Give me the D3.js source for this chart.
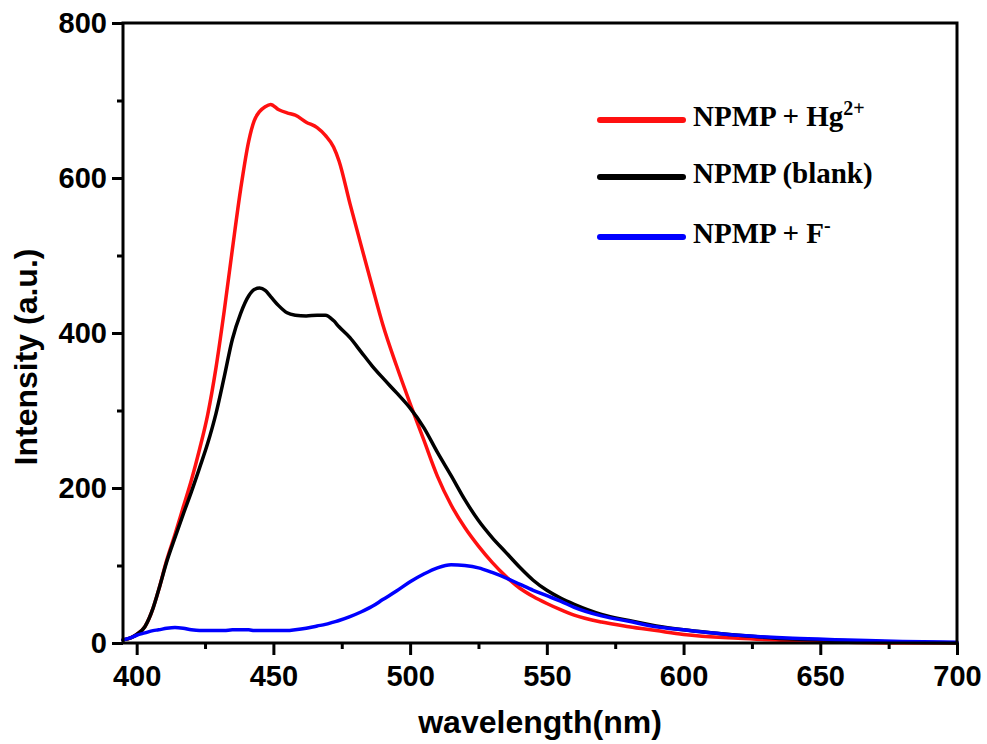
<!DOCTYPE html>
<html>
<head>
<meta charset="utf-8">
<script src="https://cdn.jsdelivr.net/npm/d3@7"></script>
<style>
  html, body { margin: 0; padding: 0; background: #fff; }
  svg { display: block; }
</style>
</head>
<body>
<svg id="chart" width="987" height="744"></svg>
<script>
// ---- data ----
const wavelength = [395,398,400,403,406,408,411,414,417,420,423,426,429,432,435,438,441,443,445,447,449,452,455,458,462,466,469,472,474,478,482,486,490,495,500,505,510,515,520,525,530,535,540,545,550,555,560,570,580,590,600,620,640,660,680,700];
const hgValues = [4,7,11,21,45,68,107,140,175,210,250,295,355,428,508,585,648,674,686,692,695,688,684,681,672,665,655,640,622,567,514,462,411,358,309,262,215,178,149,125,104,86,71,60,51,43,36,27,21,16,11,6,3,1,0,0];
const blankValues = [4,7,11,21,45,68,105,136,166,195,226,258,296,343,392,425,448,456,458,455,447,435,426,423,422,423,423,416,408,394,376,358,342,323,303,278,246,216,185,158,136,117,98,81,68,58,50,37,29,22,17,10,5,3,1,0];
const fValues = [4,7,10,13,16,17,19,20,19,17,16,16,16,16,17,17,17,16,16,16,16,16,16,17,19,22,24,27,29,34,40,47,56,67,79,89,97,101,100,97,91,84,76,68,61,54,46,35,28,21,17,10,6,4,2,1];
const seriesNames = ["NPMP + Hg", "NPMP (blank)", "NPMP + F"];
const seriesSup = ["2+", "", "-"];
const seriesColors = ["#ff1010", "#000000", "#0000ff"];
const xTicks = [400,450,500,550,600,650,700];
const xMinor = [425,475,525,575,625,675];
const yTicks = [0,200,400,600,800];
const yMinor = [100,300,500,700];
const xTitle = "wavelength(nm)";
const yTitle = "Intensity (a.u.)";

// ---- layout ----
const L = 123, R = 957, T = 23, B = 643;
const svg = d3.select("#chart");
const x = d3.scaleLinear().domain([395, 700]).range([L, R]);
const y = d3.scaleLinear().domain([0, 800]).range([B, T]);

const sans = "'Liberation Sans', Arial, sans-serif";
const serif = "'Liberation Serif', 'Times New Roman', serif";

// curves
const seriesVals = [hgValues, blankValues, fValues];
const line = d3.line()
  .x((d, i) => x(wavelength[i]))
  .y(d => y(d))
  .curve(d3.curveMonotoneX);

const plot = svg.append("g");
seriesVals.forEach((vals, k) => {
  plot.append("path")
    .datum(vals)
    .attr("d", line)
    .attr("fill", "none")
    .attr("stroke", seriesColors[k])
    .attr("stroke-width", 3.5)
    .attr("stroke-linejoin", "round")
    .attr("stroke-linecap", "round");
});

// axes frame
const axisW = 3;
// bottom axis
const xAxis = d3.axisBottom(x).tickValues(xTicks).tickSize(12).tickPadding(10).tickFormat(d3.format("d"));
const gx = svg.append("g").attr("transform", `translate(0,${B})`).call(xAxis);
gx.select(".domain").remove();
gx.selectAll(".tick line").attr("stroke", "#000").attr("stroke-width", axisW);
gx.selectAll(".tick text").attr("font-family", sans).attr("font-weight", "bold").attr("font-size", 29).attr("fill", "#000").attr("dy", "0.71em");
const xAxisMinor = d3.axisBottom(x).tickValues(xMinor).tickSize(6).tickFormat("");
const gxm = svg.append("g").attr("transform", `translate(0,${B})`).call(xAxisMinor);
gxm.select(".domain").remove();
gxm.selectAll(".tick line").attr("stroke", "#000").attr("stroke-width", axisW);

// left axis
const yAxis = d3.axisLeft(y).tickValues(yTicks).tickSize(11).tickPadding(5).tickFormat(d3.format("d"));
const gy = svg.append("g").attr("transform", `translate(${L},0)`).call(yAxis);
gy.select(".domain").remove();
gy.selectAll(".tick line").attr("stroke", "#000").attr("stroke-width", axisW);
gy.selectAll(".tick text").attr("font-family", sans).attr("font-weight", "bold").attr("font-size", 29).attr("fill", "#000");
const yAxisMinor = d3.axisLeft(y).tickValues(yMinor).tickSize(6).tickFormat("");
const gym = svg.append("g").attr("transform", `translate(${L},0)`).call(yAxisMinor);
gym.select(".domain").remove();
gym.selectAll(".tick line").attr("stroke", "#000").attr("stroke-width", axisW);

// frame
svg.append("rect")
  .attr("x", L).attr("y", T).attr("width", R - L).attr("height", B - T)
  .attr("fill", "none").attr("stroke", "#000").attr("stroke-width", axisW);

// axis titles
svg.append("text")
  .attr("x", (L + R) / 2).attr("y", 733)
  .attr("text-anchor", "middle")
  .attr("font-family", sans).attr("font-weight", "bold").attr("font-size", 32)
  .text(xTitle);
svg.append("text")
  .attr("transform", `translate(37,357) rotate(-90)`)
  .attr("text-anchor", "middle")
  .attr("font-family", sans).attr("font-weight", "bold").attr("font-size", 32)
  .text(yTitle);

// legend
const legY = [120, 177, 237];
const leg = svg.append("g");
seriesNames.forEach((name, k) => {
  leg.append("line")
    .attr("x1", 600).attr("x2", 683)
    .attr("y1", legY[k]).attr("y2", legY[k])
    .attr("stroke", seriesColors[k]).attr("stroke-width", 6)
    .attr("stroke-linecap", "round");
  const t = leg.append("text")
    .attr("x", 693).attr("y", legY[k] + 6)
    .attr("font-family", serif).attr("font-weight", "bold").attr("font-size", 29)
    .attr("fill", "#000");
  t.append("tspan").text(name);
  if (seriesSup[k]) {
    t.append("tspan").attr("dy", -11).attr("font-size", 20).text(seriesSup[k]);
  }
});
</script>
</body>
</html>
